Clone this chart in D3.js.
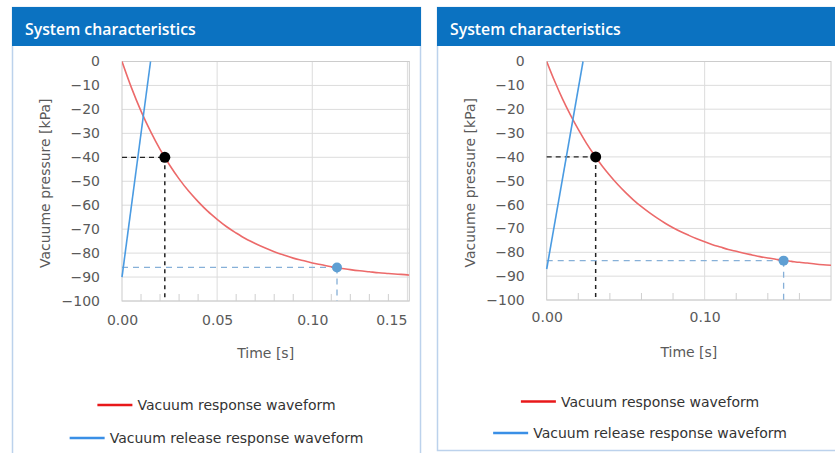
<!DOCTYPE html>
<html>
<head>
<meta charset="utf-8">
<script src="https://cdn.jsdelivr.net/npm/d3@7"></script>
<style>
  body { margin: 0; background: #fff; }
  text { font-family: "DejaVu Sans", sans-serif; }
</style>
</head>
<body>
<svg id="chart" width="835" height="453"></svg>
<script>
// ---- data ----
const panelTitle = "System characteristics";
const legendLabels = ["Vacuum response waveform", "Vacuum release response waveform"];
const yTicks = [0, -10, -20, -30, -40, -50, -60, -70, -80, -90, -100];

// left panel
const leftTime = [0, 0.005, 0.01, 0.015, 0.02, 0.025, 0.03, 0.035, 0.04, 0.045, 0.05, 0.055, 0.06, 0.065, 0.07,
  0.075, 0.08, 0.085, 0.09, 0.095, 0.10, 0.105, 0.11, 0.115, 0.12, 0.125, 0.13, 0.135, 0.14, 0.145, 0.15, 0.151];
const leftResponse = [0, -11.0, -20.7, -29.2, -36.7, -43.2, -49.0, -54.1, -58.5, -62.5, -65.9, -69.0, -71.6, -74.0, -76.0,
  -77.8, -79.4, -80.8, -82.1, -83.1, -84.1, -84.9, -85.7, -86.3, -86.9, -87.4, -87.8, -88.2, -88.5, -88.8, -89.1, -89.2];
const leftReleaseTime = [0, 0.015];
const leftRelease = [-90, 0];
const leftXLabels = [0, 0.05, 0.10, 0.15];
const leftMinor = [0.01, 0.02, 0.03, 0.04, 0.06, 0.07, 0.08, 0.09, 0.11, 0.12, 0.13, 0.14];
const leftSetPoint = [0.0225, -40];
const leftEndPoint = [0.113, -86];

// right panel
const rightTime = [0, 0.005, 0.01, 0.015, 0.02, 0.025, 0.03, 0.035, 0.04, 0.045, 0.05, 0.055, 0.06, 0.065, 0.07,
  0.075, 0.08, 0.085, 0.09, 0.095, 0.10, 0.105, 0.11, 0.115, 0.12, 0.125, 0.13, 0.135, 0.14, 0.145, 0.15, 0.155,
  0.16, 0.165, 0.17, 0.175, 0.18];
const rightResponse = [0, -8.2, -15.7, -22.4, -28.5, -34.1, -39.1, -43.7, -47.8, -51.6, -55.0, -58.1, -60.9, -63.4, -65.7,
  -67.8, -69.7, -71.4, -72.9, -74.3, -75.6, -76.8, -77.8, -78.8, -79.6, -80.4, -81.1, -81.8, -82.4, -82.9, -83.4, -83.8,
  -84.2, -84.5, -84.9, -85.2, -85.4];
const rightReleaseTime = [0, 0.023];
const rightRelease = [-87, 0];
const rightXLabels = [0, 0.10];
const rightMinor = [0.02, 0.04, 0.06, 0.08, 0.12, 0.14, 0.16];
const rightSetPoint = [0.031, -40];
const rightEndPoint = [0.150, -83.5];

// ---- layout ----
const panels = [
  { px: 12.5, pw: 408, ph: 460, cx: 216.5, left: 122, right: 409.3, top: 61.5, bottom: 301, xMax: 0.151,
    time: leftTime, resp: leftResponse, relT: leftReleaseTime, rel: leftRelease,
    labels: leftXLabels, minor: leftMinor, setP: leftSetPoint, endP: leftEndPoint, tickY: 329, titleY: 358, legY: [405, 438] },
  { px: 437.5, pw: 410, ph: 443, cx: 640, left: 546.7, right: 831, top: 61.5, bottom: 300, xMax: 0.18,
    time: rightTime, resp: rightResponse, relT: rightReleaseTime, rel: rightRelease,
    labels: rightXLabels, minor: rightMinor, setP: rightSetPoint, endP: rightEndPoint, tickY: 326, titleY: 357, legY: [401.5, 433] }
];

const svg = d3.select("#chart");

panels.forEach(p => {
  const g = svg.append("g");

  // panel frame + header
  g.append("rect").attr("x", p.px).attr("y", 7.5).attr("width", p.pw).attr("height", p.ph)
    .attr("fill", "#fff").attr("stroke", "#bcd2ec").attr("stroke-width", 1.5);
  g.append("rect").attr("x", p.px - 0.5).attr("y", 7).attr("width", p.pw + 1).attr("height", 39)
    .attr("fill", "#0b72c1");
  g.append("text").attr("x", p.px + 12.5).attr("y", 35)
    .attr("fill", "#fff").attr("font-size", "15.8px").attr("font-weight", 600)
    .style("font-family", "'Open Sans', sans-serif")
    .text(panelTitle);

  const x = d3.scaleLinear().domain([0, p.xMax]).range([p.left, p.right]);
  const y = d3.scaleLinear().domain([-100, 0]).range([p.bottom, p.top]);

  // horizontal grid
  g.append("g").selectAll("line").data(yTicks).enter().append("line")
    .attr("x1", p.left).attr("x2", p.right)
    .attr("y1", d => y(d)).attr("y2", d => y(d))
    .attr("stroke", "#dcdcdc").attr("stroke-width", 1);
  // vertical grid at labelled ticks
  g.append("g").selectAll("line").data(p.labels.filter(d => d > 0)).enter().append("line")
    .attr("x1", d => x(d)).attr("x2", d => x(d))
    .attr("y1", p.top).attr("y2", p.bottom)
    .attr("stroke", "#dcdcdc").attr("stroke-width", 1);
  // minor ticks
  g.append("g").selectAll("line").data(p.minor).enter().append("line")
    .attr("x1", d => x(d)).attr("x2", d => x(d))
    .attr("y1", p.bottom).attr("y2", p.bottom - 7)
    .attr("stroke", "#cfcfcf").attr("stroke-width", 1);
  // plot frame
  g.append("rect").attr("x", p.left).attr("y", p.top)
    .attr("width", p.right - p.left).attr("height", p.bottom - p.top)
    .attr("fill", "none").attr("stroke", "#cccccc").attr("stroke-width", 1);

  // y axis labels
  const yAxis = d3.axisLeft(y).tickValues(yTicks).tickSize(0).tickPadding(22).tickFormat(d3.format("d"));
  const ya = g.append("g").attr("transform", `translate(${p.left},0)`).call(yAxis);
  ya.select(".domain").remove();
  ya.selectAll("text").attr("font-size", "14px").attr("fill", "#5a5a5a")
    .style("font-family", "'DejaVu Sans', sans-serif");

  // x axis labels
  const xAxis = d3.axisBottom(x).tickValues(p.labels).tickSize(0).tickPadding(0).tickFormat(d3.format(".2f"));
  const xa = g.append("g").attr("transform", `translate(0,${p.tickY - 14})`).call(xAxis);
  xa.select(".domain").remove();
  xa.selectAll("text").attr("font-size", "14px").attr("fill", "#5a5a5a")
    .style("font-family", "'DejaVu Sans', sans-serif");
  // keep the last label inside the plot
  xa.selectAll(".tick").each(function () {
    const t = d3.select(this).select("text");
    const b = this.getBBox();
    const tx = +d3.select(this).attr("transform").match(/translate\(([-\d.]+)/)[1];
    const over = tx + b.x + b.width - (p.right - 2);
    if (over > 0) t.attr("dx", -over);
  });

  // axis titles
  g.append("text").attr("x", (p.left + p.right) / 2).attr("y", p.titleY)
    .attr("text-anchor", "middle").attr("font-size", "14px").attr("fill", "#5a5a5a")
    .text("Time [s]");
  g.append("text")
    .attr("transform", `translate(${p.left - 72},${(p.top + p.bottom) / 2 + 2}) rotate(-90)`)
    .attr("text-anchor", "middle").attr("font-size", "14px").attr("fill", "#5a5a5a")
    .text("Vacuume pressure [kPa]");

  const clip = "clip" + Math.round(p.left);
  svg.append("clipPath").attr("id", clip).append("rect")
    .attr("x", p.left).attr("y", p.top - 1).attr("width", p.right - p.left).attr("height", p.bottom - p.top + 1);

  // dashed guide lines
  g.append("line").attr("x1", p.left).attr("x2", x(p.setP[0]))
    .attr("y1", y(p.setP[1])).attr("y2", y(p.setP[1]))
    .attr("stroke", "#222").attr("stroke-width", 1.2).attr("stroke-dasharray", "5,4");
  g.append("line").attr("x1", x(p.setP[0])).attr("x2", x(p.setP[0]))
    .attr("y1", y(p.setP[1])).attr("y2", p.bottom)
    .attr("stroke", "#222").attr("stroke-width", 1.5).attr("stroke-dasharray", "4,4");
  g.append("line").attr("x1", p.left).attr("x2", x(p.endP[0]))
    .attr("y1", y(p.endP[1])).attr("y2", y(p.endP[1]))
    .attr("stroke", "#86b0d8").attr("stroke-width", 1.3).attr("stroke-dasharray", "6,5");
  g.append("line").attr("x1", x(p.endP[0])).attr("x2", x(p.endP[0]))
    .attr("y1", y(p.endP[1])).attr("y2", p.bottom)
    .attr("stroke", "#86b0d8").attr("stroke-width", 1.3).attr("stroke-dasharray", "6,5");

  // curves
  const line = d3.line().x(d => x(d[0])).y(d => y(d[1])).curve(d3.curveMonotoneX);
  g.append("path").datum(p.time.map((t, i) => [t, p.resp[i]]))
    .attr("clip-path", `url(#${clip})`)
    .attr("d", line).attr("fill", "none").attr("stroke", "#ec6a6a").attr("stroke-width", 1.6);
  g.append("path").datum(p.relT.map((t, i) => [t, p.rel[i]]))
    .attr("d", d3.line().x(d => x(d[0])).y(d => y(d[1])))
    .attr("fill", "none").attr("stroke", "#4a9be2").attr("stroke-width", 1.6);

  // markers
  g.append("circle").attr("cx", x(p.setP[0])).attr("cy", y(p.setP[1])).attr("r", 5.5).attr("fill", "#000");
  g.append("circle").attr("cx", x(p.endP[0])).attr("cy", y(p.endP[1])).attr("r", 5).attr("fill", "#5f9fd3");

  // legend
  const legColors = ["#e8181a", "#3a8fe6"];
  legendLabels.forEach((lab, i) => {
    const lg = g.append("g");
    const txt = lg.append("text").attr("x", 40).attr("y", p.legY[i] + 5)
      .attr("font-size", "14px").attr("fill", "#333").text(lab);
    lg.append("line").attr("x1", 0).attr("x2", 35).attr("y1", p.legY[i]).attr("y2", p.legY[i])
      .attr("stroke", legColors[i]).attr("stroke-width", 2.5);
    const w = 40 + txt.node().getComputedTextLength();
    lg.attr("transform", `translate(${p.cx - w / 2},0)`);
  });
});
</script>
</body>
</html>
